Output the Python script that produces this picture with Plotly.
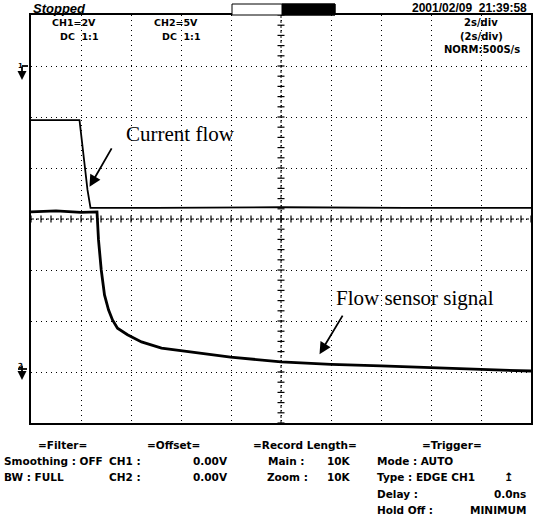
import numpy as np
import plotly.graph_objects as go

W, H = 545, 525

# ---- data (time in s, 2 s/div; vertical in divisions) ----
t_current = [-10.0, -8.06, -7.74, -7.62, -5.0, 0.0, 5.0, 10.0]
current_div = [1.94, 1.94, 0.57, 0.22, 0.22, 0.23, 0.22, 0.22]

t_flow = [-10.0, -9.0, -8.0, -7.36, -7.30, -7.19, -7.06, -6.90, -6.74, -6.54,
          -6.14, -5.58, -4.78, -3.86, -2.02, 0.0, 2.0, 4.0, 6.0, 8.0, 10.0]
flow_div = [0.14, 0.16, 0.13, 0.14, -0.41, -1.0, -1.49, -1.78, -1.98, -2.14,
            -2.27, -2.41, -2.53, -2.59, -2.71, -2.80, -2.85, -2.88, -2.92, -2.95, -2.98]

# frame in pixels
X0, X1, Y0, Y1 = 31, 531, 15, 423


def px(x):
    return x / W


def py(y):
    return 1 - y / H


fig = go.Figure()
fig.add_trace(go.Scatter(x=t_current, y=current_div, mode='lines',
                         line=dict(color='black', width=1.8), hoverinfo='skip'))
fig.add_trace(go.Scatter(x=t_flow, y=flow_div, mode='lines',
                         line=dict(color='black', width=2.8), hoverinfo='skip'))

# centre-axis tick crosses (0.2 div)
tick_t = np.arange(-10, 10.001, 0.4)
fig.add_trace(go.Scatter(x=tick_t, y=np.zeros_like(tick_t), mode='markers',
                         marker=dict(symbol='line-ns', size=5, color='black',
                                     line=dict(width=1.2, color='black')), hoverinfo='skip'))
tick_v = np.arange(-4, 4.001, 0.2)
fig.add_trace(go.Scatter(x=np.zeros_like(tick_v), y=tick_v, mode='markers',
                         marker=dict(symbol='line-ew', size=5, color='black',
                                     line=dict(width=1.2, color='black')), hoverinfo='skip'))

ax_common = dict(showgrid=True, gridcolor='black', griddash='1.2px,3.8px', gridwidth=1.4,
                 zeroline=False, showline=True, mirror=True, linecolor='black',
                 linewidth=1.5, showticklabels=False, ticks='')

fig.update_layout(
    width=W, height=H, margin=dict(l=0, r=0, t=0, b=0),
    paper_bgcolor='white', plot_bgcolor='white', showlegend=False,
    xaxis=dict(domain=[px(X0), px(X1)], range=[-10, 10], dtick=2, tick0=-10, **ax_common),
    yaxis=dict(domain=[py(Y1), py(Y0)], range=[-4, 4], dtick=1, tick0=-4, **ax_common),
)

# centre lines
fig.add_shape(type='line', xref='x', yref='y', x0=0, x1=0, y0=-4, y1=4,
              line=dict(color='black', width=1, dash='3px,2px'))
fig.add_shape(type='line', xref='x', yref='y', x0=-10, x1=10, y0=0, y1=0,
              line=dict(color='black', width=1, dash='3px,2px'))

# progress bar at top
fig.add_shape(type='rect', xref='paper', yref='paper', x0=px(232), x1=px(335), y0=py(15), y1=py(4),
              line=dict(color='black', width=1), fillcolor='white')
fig.add_shape(type='rect', xref='paper', yref='paper', x0=px(282), x1=px(335), y0=py(15), y1=py(4),
              line=dict(color='black', width=1), fillcolor='black')

BOLD = dict(family='DejaVu Sans', weight='bold', color='black')


def txt(x, y, s, size, anchor='left', font=None, **kw):
    f = dict(BOLD if font is None else font)
    f['size'] = size
    fig.add_annotation(x=px(x), y=py(y), xref='paper', yref='paper', text=s,
                       showarrow=False, xanchor=anchor, yanchor='middle', font=f, **kw)


# top row
txt(31, 8, 'Stopped', 13, 'left', dict(family='Liberation Sans', weight='bold', style='italic', color='black'))
txt(529, 8, '2001/02/09  21:39:58', 12, 'right', dict(family='Liberation Sans', weight='bold', color='black'))

# in-screen labels
txt(74, 22.5, 'CH1=2V', 9.5, 'center')
txt(79, 36, 'DC  1:1', 9.5, 'center')
txt(176, 22.5, 'CH2=5V', 9.5, 'center')
txt(181, 36, 'DC  1:1', 9.5, 'center')
txt(481, 22.5, '2s/div', 10, 'center')
txt(481, 36, '(2s/div)', 10, 'center')
txt(482, 49.5, 'NORM:500S/s', 10, 'center')

# channel markers
txt(16, 66, '1', 7)
fig.add_annotation(x=px(22), y=py(80), xref='paper', yref='paper', ax=0, ay=-15, text='',
                   showarrow=True, arrowhead=2, arrowsize=1, arrowwidth=1.8, arrowcolor='black')
fig.add_shape(type='line', xref='paper', yref='paper', x0=px(22), x1=px(28), y0=py(66), y1=py(66),
              line=dict(color='black', width=1.8))
txt(16, 366, '2', 7)
fig.add_annotation(x=px(22), y=py(380), xref='paper', yref='paper', ax=0, ay=-16, text='',
                   showarrow=True, arrowhead=2, arrowsize=1, arrowwidth=1.8, arrowcolor='black')
fig.add_shape(type='line', xref='paper', yref='paper', x0=px(18), x1=px(27), y0=py(369), y1=py(369),
              line=dict(color='black', width=1.8))

# callouts
SERIF = dict(family='Liberation Serif', color='black')
txt(180.5, 134, 'Current flow', 21, 'center', SERIF)
txt(415, 298, 'Flow sensor signal', 21, 'center', SERIF)
fig.add_annotation(x=-7.66, y=0.63, xref='x', yref='y', ax=23, ay=-40, text='',
                   showarrow=True, arrowhead=2, arrowsize=1.3, arrowwidth=1.8, arrowcolor='black')
fig.add_annotation(x=1.54, y=-2.65, xref='x', yref='y', ax=24, ay=-40, text='',
                   showarrow=True, arrowhead=2, arrowsize=1.3, arrowwidth=1.8, arrowcolor='black')

# bottom status block
FS = 10.5
r1, r2, r3, r4, r5 = 445, 461, 477, 494, 510
txt(62, r1, '=Filter=', FS, 'center')
txt(173, r1, '=Offset=', FS, 'center')
txt(305, r1, '=Record Length=', FS, 'center')
txt(452, r1, '=Trigger=', FS, 'center')
txt(2, r2, 'Smoothing : OFF', FS)
txt(2, r3, 'BW : FULL', FS)
txt(107, r2, 'CH1 :', FS)
txt(107, r3, 'CH2 :', FS)
txt(230, r2, '0.00V', FS, 'right')
txt(230, r3, '0.00V', FS, 'right')
txt(266, r2, 'Main :', FS)
txt(265, r3, 'Zoom :', FS)
txt(353, r2, '10K', FS, 'right')
txt(353, r3, '10K', FS, 'right')
txt(375, r2, 'Mode : AUTO', FS)
txt(375, r3, 'Type : EDGE CH1', FS)
txt(502, r3, '↥', FS + 1)
txt(375, r4, 'Delay :', FS)
txt(528, r4, '0.0ns', FS, 'right')
txt(375, r5, 'Hold Off :', FS)
txt(528, r5, 'MINIMUM', FS, 'right')

fig.write_html('out.html', config={'displayModeBar': False},
               post_script="document.body.style.margin='0';document.body.style.overflow='hidden';")
